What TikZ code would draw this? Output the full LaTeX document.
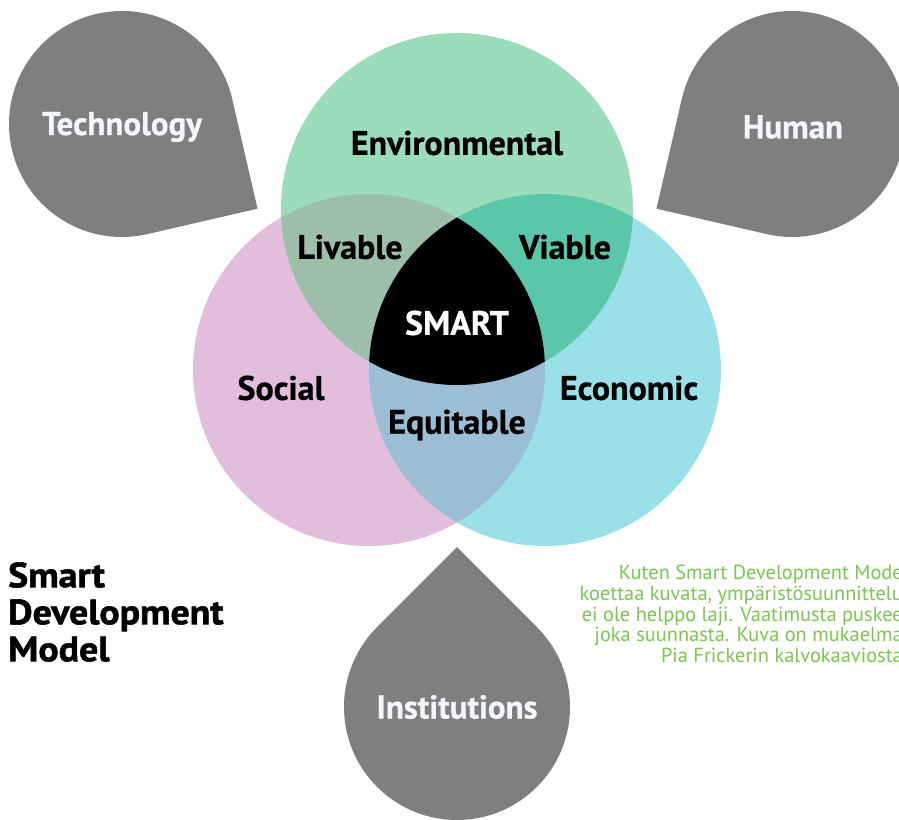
\documentclass[tikz,border=0pt]{standalone}
\usepackage{fontspec}
\setmainfont{PT Sans}
\newfontfamily\labelfont{PT Sans}[FakeBold=0.6]
\newfontfamily\titlefont{PT Sans}[FakeStretch=1.08, FakeBold=1.6]
\usetikzlibrary{calc}

\definecolor{envgreen}{HTML}{9BDDBB}
\definecolor{socpink}{HTML}{E3BEDC}
\definecolor{ecocyan}{HTML}{9AE0E8}
\definecolor{livablecol}{HTML}{9DBEA8}
\definecolor{viablecol}{HTML}{5AC8A8}
\definecolor{equitcol}{HTML}{9BBED5}
\definecolor{dropgray}{HTML}{7F7F7F}
\definecolor{notegreen}{HTML}{7AC64E}
\definecolor{droptext}{HTML}{F3F6FA}

% teardrop: centre, direction of the tip, radius
\newcommand{\dropshape}[3]{%
  \fill[dropgray] (#1) ++(#2+45:#3) arc[start angle=#2+45, end angle=#2+315, radius=#3]
    -- ($(#1)+(#2:{#3*1.4142})$) -- cycle;}

\tikzset{
  venn/.style={font=\labelfont\bfseries\fontsize{34}{38}\selectfont, text=black, inner sep=0pt},
  droplabel/.style={font=\labelfont\bfseries\fontsize{33}{38}\selectfont, text=droptext, inner sep=0pt},
}

\begin{document}
\begin{tikzpicture}[x=1pt,y=1pt]
\useasboundingbox (0,0) rectangle (899,819);
\clip (0,0) rectangle (899,819);

% centres
\coordinate (envc) at (457,610);
\coordinate (socc) at (369,449);
\coordinate (ecoc) at (545,449);
\coordinate (techc) at (122,695);
\coordinate (humc) at (792,695);
\coordinate (instc) at (457,112);

% grey teardrops
\dropshape{techc}{-32}{113}
\dropshape{humc}{212}{113}
\dropshape{instc}{90}{113}

% three circles
\fill[socpink] (socc) circle[radius=176];
\fill[ecocyan] (ecoc) circle[radius=176];
\fill[envgreen] (envc) circle[radius=176];

% pairwise overlaps and the common core
\begin{scope}
  \clip (envc) circle[radius=176];
  \fill[livablecol] (socc) circle[radius=176];
  \fill[viablecol] (ecoc) circle[radius=176];
\end{scope}
\begin{scope}
  \clip (socc) circle[radius=176];
  \fill[equitcol] (ecoc) circle[radius=176];
  \clip (ecoc) circle[radius=176];
  \fill[black] (envc) circle[radius=176];
\end{scope}

% labels
\node[venn] (env) at (457,676) {Environmental};
\node[venn] (liv) at (350,572) {Livable};
\node[venn] (via) at (565,572) {Viable};
\node[venn, text=white] (smart) at (457,496) {SMART};
\node[venn] (soc) at (281,431) {Social};
\node[venn] (eco) at (629,431) {Economic};
\node[venn] (equ) at (457,394) {Equitable};

\node[droplabel] (tech) at (122,692) {Technology};
\node[droplabel] (hum) at (793,692) {Human};
\node[droplabel] (inst) at (457,112) {Institutions};

\node[anchor=west, align=left, inner sep=0pt,
      font=\titlefont\bfseries\fontsize{35}{37}\selectfont] (title) at (8,207)
  {Smart\\Development\\Model};

\node[anchor=east, align=right, inner sep=0pt, text=notegreen,
      font=\fontsize{20.4}{20.7}\selectfont] (note) at (903,205)
  {Kuten Smart Development Mode\\
   koettaa kuvata, ympäristösuunnittelu\\
   ei ole helppo laji. Vaatimusta puskee\\
   joka suunnasta. Kuva on mukaelma\\
   Pia Frickerin kalvokaaviosta};
\end{tikzpicture}
\end{document}
